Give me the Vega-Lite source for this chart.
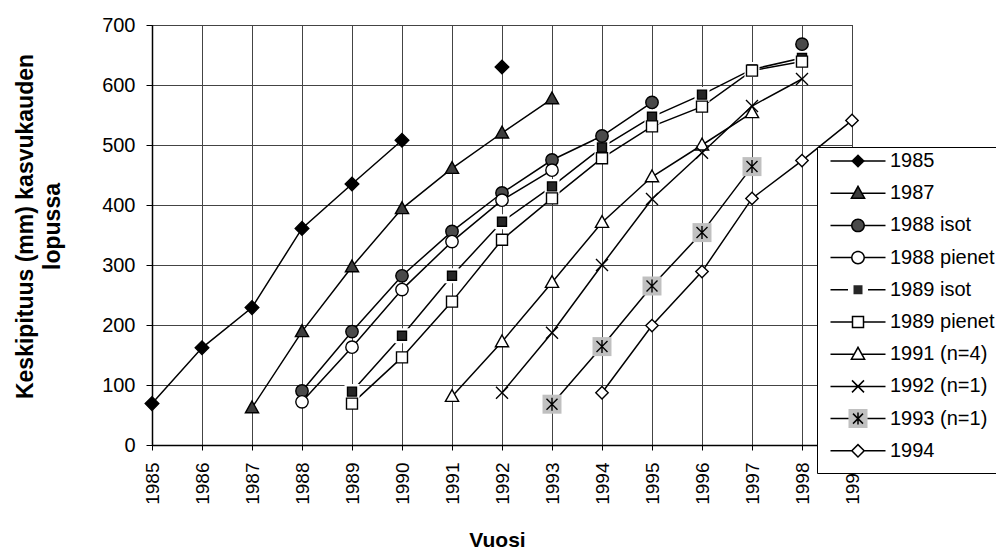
{
  "$schema": "https://vega.github.io/schema/vega-lite/v6.json",
  "autosize": {"type": "none"},
  "padding": {"left": 152, "top": 25, "right": 144, "bottom": 107},
  "width": 700,
  "height": 420,
  "background": "white",
  "config": {
    "font": "Liberation Sans",
    "view": {"stroke": "black", "strokeWidth": 1},
    "axis": {"labelFont": "Liberation Sans", "titleFont": "Liberation Sans", "labelColor": "black", "titleColor": "black", "domainColor": "black", "tickColor": "black", "gridColor": "#444", "gridWidth": 1, "domainWidth": 1.5, "tickWidth": 1},
    "legend": {"labelFont": "Liberation Sans", "labelColor": "black"}
  },
  "data": {"values": [
    {"s": "1985", "yr": 1985, "v": 69}, {"s": "1985", "yr": 1986, "v": 162}, {"s": "1985", "yr": 1987, "v": 229}, {"s": "1985", "yr": 1988, "v": 361}, {"s": "1985", "yr": 1989, "v": 435}, {"s": "1985", "yr": 1990, "v": 508}, {"s": "1985", "yr": 1991, "v": null}, {"s": "1985", "yr": 1992, "v": 630},
    {"s": "1987", "yr": 1987, "v": 62}, {"s": "1987", "yr": 1988, "v": 189}, {"s": "1987", "yr": 1989, "v": 297}, {"s": "1987", "yr": 1990, "v": 394}, {"s": "1987", "yr": 1991, "v": 461}, {"s": "1987", "yr": 1992, "v": 520}, {"s": "1987", "yr": 1993, "v": 577},
    {"s": "1988 isot", "yr": 1988, "v": 90}, {"s": "1988 isot", "yr": 1989, "v": 189}, {"s": "1988 isot", "yr": 1990, "v": 282}, {"s": "1988 isot", "yr": 1991, "v": 356}, {"s": "1988 isot", "yr": 1992, "v": 420}, {"s": "1988 isot", "yr": 1993, "v": 475}, {"s": "1988 isot", "yr": 1994, "v": 515}, {"s": "1988 isot", "yr": 1995, "v": 571}, {"s": "1988 isot", "yr": 1996, "v": null}, {"s": "1988 isot", "yr": 1997, "v": null}, {"s": "1988 isot", "yr": 1998, "v": 668},
    {"s": "1988 pienet", "yr": 1988, "v": 72}, {"s": "1988 pienet", "yr": 1989, "v": 163}, {"s": "1988 pienet", "yr": 1990, "v": 259}, {"s": "1988 pienet", "yr": 1991, "v": 339}, {"s": "1988 pienet", "yr": 1992, "v": 408}, {"s": "1988 pienet", "yr": 1993, "v": 458},
    {"s": "1989 isot", "yr": 1989, "v": 89}, {"s": "1989 isot", "yr": 1990, "v": 182}, {"s": "1989 isot", "yr": 1991, "v": 282}, {"s": "1989 isot", "yr": 1992, "v": 372}, {"s": "1989 isot", "yr": 1993, "v": 431}, {"s": "1989 isot", "yr": 1994, "v": 496}, {"s": "1989 isot", "yr": 1995, "v": 547}, {"s": "1989 isot", "yr": 1996, "v": 584}, {"s": "1989 isot", "yr": 1997, "v": 626}, {"s": "1989 isot", "yr": 1998, "v": 645},
    {"s": "1989 pienet", "yr": 1989, "v": 69}, {"s": "1989 pienet", "yr": 1990, "v": 146}, {"s": "1989 pienet", "yr": 1991, "v": 239}, {"s": "1989 pienet", "yr": 1992, "v": 342}, {"s": "1989 pienet", "yr": 1993, "v": 411}, {"s": "1989 pienet", "yr": 1994, "v": 478}, {"s": "1989 pienet", "yr": 1995, "v": 531}, {"s": "1989 pienet", "yr": 1996, "v": 564}, {"s": "1989 pienet", "yr": 1997, "v": 624}, {"s": "1989 pienet", "yr": 1998, "v": 639},
    {"s": "1991 (n=4)", "yr": 1991, "v": 81}, {"s": "1991 (n=4)", "yr": 1992, "v": 172}, {"s": "1991 (n=4)", "yr": 1993, "v": 271}, {"s": "1991 (n=4)", "yr": 1994, "v": 371}, {"s": "1991 (n=4)", "yr": 1995, "v": 447}, {"s": "1991 (n=4)", "yr": 1996, "v": 500}, {"s": "1991 (n=4)", "yr": 1997, "v": 554},
    {"s": "1992 (n=1)", "yr": 1992, "v": 87}, {"s": "1992 (n=1)", "yr": 1993, "v": 187}, {"s": "1992 (n=1)", "yr": 1994, "v": 300}, {"s": "1992 (n=1)", "yr": 1995, "v": 410}, {"s": "1992 (n=1)", "yr": 1996, "v": 487}, {"s": "1992 (n=1)", "yr": 1997, "v": 565}, {"s": "1992 (n=1)", "yr": 1998, "v": 610},
    {"s": "1993 (n=1)", "yr": 1993, "v": 68}, {"s": "1993 (n=1)", "yr": 1994, "v": 164}, {"s": "1993 (n=1)", "yr": 1995, "v": 265}, {"s": "1993 (n=1)", "yr": 1996, "v": 354}, {"s": "1993 (n=1)", "yr": 1997, "v": 464},
    {"s": "1994", "yr": 1994, "v": 87}, {"s": "1994", "yr": 1995, "v": 199}, {"s": "1994", "yr": 1996, "v": 289}, {"s": "1994", "yr": 1997, "v": 411}, {"s": "1994", "yr": 1998, "v": 474}, {"s": "1994", "yr": 1999, "v": 541}
  ]},
  "encoding": {
    "x": {"field": "yr", "type": "quantitative", "scale": {"domain": [1985, 1999], "nice": false, "zero": false},
      "axis": {"values": [1985, 1986, 1987, 1988, 1989, 1990, 1991, 1992, 1993, 1994, 1995, 1996, 1997, 1998, 1999], "format": "d", "labelAngle": 270, "labelAlign": "right", "labelBaseline": "middle", "labelFontSize": 19, "labelPadding": 12, "tickSize": 5, "grid": true, "labelFlush": false, "labelOverlap": false,
        "title": "Vuosi", "titleFontSize": 21, "titleFontWeight": "bold", "titleX": 345, "titleY": 95, "titleAlign": "center", "titleBaseline": "middle", "titleAnchor": null}},
    "y": {"field": "v", "type": "quantitative", "scale": {"domain": [0, 700], "nice": false},
      "axis": {"values": [0, 100, 200, 300, 400, 500, 600, 700], "labelFontSize": 20, "labelPadding": 11, "tickSize": 6, "grid": true, "labelFlush": false,
        "title": ["Keskipituus (mm) kasvukauden", "lopussa"], "titleFontSize": 23, "titleFontWeight": "bold", "titleLineHeight": 27, "titleAngle": 270, "titleX": -127, "titleY": 201, "titleAlign": "center", "titleBaseline": "middle"}}
  },
  "layer": [
    {
      "mark": {"type": "line", "stroke": "black", "strokeWidth": 1.5},
      "encoding": {"detail": {"field": "s", "type": "nominal"}}
    },
    {
      "transform": [{"filter": "datum.s === '1993 (n=1)'"}],
      "mark": {"type": "point", "filled": true, "opacity": 1, "size": 400, "shape": "M-0.95,-0.95H0.95V0.95H-0.95Z", "strokeWidth": 1.5},
      "encoding": {
        "fill": {"field": "s", "type": "nominal",
          "scale": {"domain": ["1985", "1987", "1988 isot", "1988 pienet", "1989 isot", "1989 pienet", "1991 (n=4)", "1992 (n=1)", "1993 (n=1)", "1994"],
            "range": ["transparent", "transparent", "transparent", "transparent", "transparent", "transparent", "transparent", "transparent", "#c0c0c0", "transparent"]},
          "legend": {"orient": "none", "legendX": 665, "legendY": 122, "direction": "vertical", "title": " ", "titleOrient": "bottom", "titleFontSize": 4, "titlePadding": 4, "titleColor": "transparent", "padding": 3, "fillColor": "white", "strokeColor": "black",
            "symbolType": "M-0.95,-0.95H0.95V0.95H-0.95Z", "symbolSize": 400, "symbolStrokeWidth": 1.5, "symbolStrokeColor": "transparent", "symbolOffset": 27,
            "labelOffset": 21, "labelFontSize": 20, "labelColor": "transparent", "labelLimit": 300, "clipHeight": 22, "rowPadding": 10.2}}
      }
    },
    {
      "transform": [{"filter": "datum.s === '1989 isot'"}],
      "mark": {"type": "point", "filled": true, "opacity": 1, "size": 400, "shape": "M-0.45,-0.45H0.45V0.45H-0.45Z", "fill": "white", "stroke": "white", "strokeWidth": 6}
    },
    {
      "mark": {"type": "point", "filled": true, "opacity": 1, "size": 400, "stroke": "black", "strokeWidth": 1.4},
      "encoding": {
        "shape": {"field": "s", "type": "nominal", "legend": null,
          "scale": {"domain": ["1985", "1987", "1988 isot", "1988 pienet", "1989 isot", "1989 pienet", "1991 (n=4)", "1992 (n=1)", "1993 (n=1)", "1994"],
            "range": [
              "M0,-0.68L0.68,0L0,0.68L-0.68,0Z",
              "M0,-0.68L0.66,0.5L-0.66,0.5Z",
              "M-0.62,0A0.62,0.62,0,1,0,0.62,0A0.62,0.62,0,1,0,-0.62,0Z",
              "M-0.62,0A0.62,0.62,0,1,0,0.62,0A0.62,0.62,0,1,0,-0.62,0Z",
              "M-0.45,-0.45H0.45V0.45H-0.45Z",
              "M-0.55,-0.55H0.55V0.55H-0.55Z",
              "M0,-0.68L0.66,0.5L-0.66,0.5Z",
              "M-0.6,-0.6L0.6,0.6M-0.6,0.6L0.6,-0.6",
              "M-0.55,-0.55L0.55,0.55M-0.55,0.55L0.55,-0.55M0,-0.65V0.65",
              "M0,-0.62L0.62,0L0,0.62L-0.62,0Z"
            ]}},
        "fill": {"field": "s", "type": "nominal", "legend": null,
          "scale": {"domain": ["1985", "1987", "1988 isot", "1988 pienet", "1989 isot", "1989 pienet", "1991 (n=4)", "1992 (n=1)", "1993 (n=1)", "1994"],
            "range": ["#000000", "#3d3d3d", "#4a4a4a", "#ffffff", "#262626", "#ffffff", "#ffffff", "transparent", "transparent", "#ffffff"]}}
      }
    },
    {
      "mark": {"type": "point", "filled": false, "opacity": 1, "size": 0, "stroke": "black", "strokeWidth": 1.5},
      "encoding": {
        "shape": {"field": "s", "type": "nominal",
          "scale": {"domain": ["1985", "1987", "1988 isot", "1988 pienet", "1989 isot", "1989 pienet", "1991 (n=4)", "1992 (n=1)", "1993 (n=1)", "1994"],
            "range": [
              "M0,-0.68L0.68,0L0,0.68L-0.68,0Z",
              "M0,-0.68L0.66,0.5L-0.66,0.5Z",
              "M-0.62,0A0.62,0.62,0,1,0,0.62,0A0.62,0.62,0,1,0,-0.62,0Z",
              "M-0.62,0A0.62,0.62,0,1,0,0.62,0A0.62,0.62,0,1,0,-0.62,0Z",
              "M-0.45,-0.45H0.45V0.45H-0.45Z",
              "M-0.55,-0.55H0.55V0.55H-0.55Z",
              "M0,-0.68L0.66,0.5L-0.66,0.5Z",
              "M-0.6,-0.6L0.6,0.6M-0.6,0.6L0.6,-0.6",
              "M-0.5,-0.5L0.5,0.5M-0.5,0.5L0.5,-0.5M0,-0.6V0.6",
              "M0,-0.62L0.62,0L0,0.62L-0.62,0Z"
            ]},
          "legend": {"orient": "none", "legendX": 665, "legendY": 122, "direction": "vertical", "title": null, "padding": 3,
            "symbolSize": 400, "symbolStrokeWidth": 1.5, "symbolStrokeColor": "black", "symbolOffset": 27,
            "labelOffset": 21, "labelFontSize": 20, "labelLimit": 300, "clipHeight": 22, "rowPadding": 10.2}},
        "fill": {"field": "s", "type": "nominal",
          "scale": {"domain": ["1985", "1987", "1988 isot", "1988 pienet", "1989 isot", "1989 pienet", "1991 (n=4)", "1992 (n=1)", "1993 (n=1)", "1994"],
            "range": ["#000000", "#3d3d3d", "#4a4a4a", "#ffffff", "#262626", "#ffffff", "#ffffff", "transparent", "transparent", "#ffffff"]},
          "legend": {"orient": "none", "legendX": 665, "legendY": 122, "direction": "vertical", "title": null, "padding": 3,
            "symbolSize": 400, "symbolStrokeWidth": 1.5, "symbolStrokeColor": "black", "symbolOffset": 27,
            "labelOffset": 21, "labelFontSize": 20, "labelLimit": 300, "clipHeight": 22, "rowPadding": 10.2}}
      }
    },
    {
      "mark": {"type": "point", "filled": true, "opacity": 1, "size": 0, "fill": "black", "strokeWidth": 1.5},
      "encoding": {
        "shape": {"field": "s", "type": "nominal",
          "scale": {"domain": ["1985", "1987", "1988 isot", "1988 pienet", "1989 isot", "1989 pienet", "1991 (n=4)", "1992 (n=1)", "1993 (n=1)", "1994"],
            "range": [
              "M-2.75,-0.075H-0.6V0.075H-2.75ZM0.6,-0.075H2.75V0.075H0.6Z",
              "M-2.75,-0.075H-0.38V0.075H-2.75ZM0.38,-0.075H2.75V0.075H0.38ZM0,-0.834L0.788,0.575L-0.788,0.575ZM0,-0.526L-0.532,0.425L0.532,0.425Z",
              "M-2.75,-0.075H-0.62V0.075H-2.75ZM0.62,-0.075H2.75V0.075H0.62ZM-0.695,0A0.695,0.695,0,1,1,0.695,0A0.695,0.695,0,1,1,-0.695,0ZM-0.545,0A0.545,0.545,0,1,0,0.545,0A0.545,0.545,0,1,0,-0.545,0Z",
              "M-2.75,-0.075H-0.62V0.075H-2.75ZM0.62,-0.075H2.75V0.075H0.62ZM-0.695,0A0.695,0.695,0,1,1,0.695,0A0.695,0.695,0,1,1,-0.695,0ZM-0.545,0A0.545,0.545,0,1,0,0.545,0A0.545,0.545,0,1,0,-0.545,0Z",
              "M-2.75,-0.075H-1V0.075H-2.75ZM1,-0.075H2.75V0.075H1Z",
              "M-2.75,-0.075H-0.55V0.075H-2.75ZM0.55,-0.075H2.75V0.075H0.55ZM-0.625,-0.625H0.625V0.625H-0.625ZM-0.475,-0.475V0.475H0.475V-0.475Z",
              "M-2.75,-0.075H-0.38V0.075H-2.75ZM0.38,-0.075H2.75V0.075H0.38ZM0,-0.834L0.788,0.575L-0.788,0.575ZM0,-0.526L-0.532,0.425L0.532,0.425Z",
              "M-2.75,-0.075H2.75V0.075H-2.75ZM-0.547,-0.653L0.653,0.547L0.547,0.653L-0.653,-0.547ZM-0.653,0.547L0.547,-0.653L0.653,-0.547L-0.547,0.653Z",
              "M-2.75,-0.075H-0.95V0.075H-2.75ZM0.95,-0.075H2.75V0.075H0.95ZM-0.447,-0.553L0.553,0.447L0.447,0.553L-0.553,-0.447ZM-0.553,0.447L0.447,-0.553L0.553,-0.447L-0.447,0.553ZM-0.075,-0.6H0.075V0.6H-0.075Z",
              "M-2.75,-0.075H-0.62V0.075H-2.75ZM0.62,-0.075H2.75V0.075H0.62ZM0,-0.726L0.726,0L0,0.726L-0.726,0ZM0,-0.514L-0.514,0L0,0.514L0.514,0Z"
            ]},
          "legend": {"orient": "none", "legendX": 665, "legendY": 122, "direction": "vertical", "title": null, "padding": 3,
            "symbolSize": 400, "symbolStrokeWidth": 1.5, "symbolStrokeColor": "transparent", "symbolFillColor": "black", "symbolOffset": 27,
            "labelOffset": 21, "labelFontSize": 20, "labelColor": "transparent", "labelLimit": 300, "clipHeight": 22, "rowPadding": 10.2}}
      }
    }
  ],
  "resolve": {"scale": {"shape": "independent", "fill": "independent"}}
}
